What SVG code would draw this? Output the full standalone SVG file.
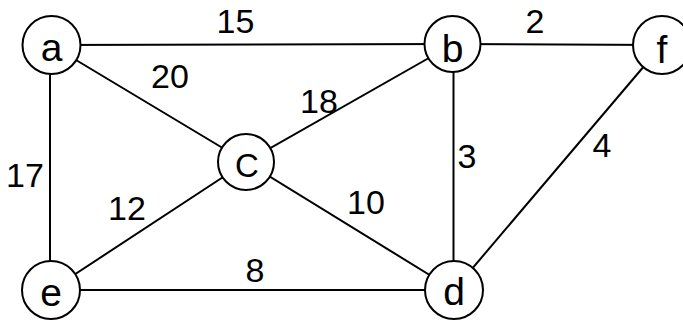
<svg xmlns="http://www.w3.org/2000/svg" width="683" height="323" viewBox="0 0 683 323">
<style>
.edge{stroke:#000;stroke-width:2;fill:none}
.node circle{fill:#fff;stroke:#000;stroke-width:2}
.node text{font-family:"Liberation Sans",Arial,sans-serif;font-size:39px;text-anchor:middle;fill:#000}
.lbl{font-family:"Liberation Sans",Arial,sans-serif;font-size:34px;text-anchor:middle;fill:#000}
</style>
<rect width="683" height="323" fill="#fff"/>
<g id="edges">
<line class="edge" x1="51" y1="45" x2="453.5" y2="44"/>
<line class="edge" x1="453.5" y1="44" x2="662" y2="45"/>
<line class="edge" x1="50" y1="45" x2="50" y2="290"/>
<line class="edge" x1="51" y1="45" x2="246" y2="162"/>
<line class="edge" x1="246" y1="162" x2="453.5" y2="44"/>
<line class="edge" x1="453.5" y1="44" x2="453.5" y2="290"/>
<line class="edge" x1="246" y1="162" x2="51" y2="290"/>
<line class="edge" x1="246" y1="162" x2="454" y2="290"/>
<line class="edge" x1="51" y1="290" x2="454" y2="290"/>
<line class="edge" x1="662" y1="45" x2="454" y2="290"/>
</g>
<g id="labels">
<text class="lbl" x="235.5" y="33">15</text>
<text class="lbl" x="535" y="33">2</text>
<text class="lbl" x="170" y="88">20</text>
<text class="lbl" x="319" y="113">18</text>
<text class="lbl" x="467" y="168">3</text>
<text class="lbl" x="602" y="157">4</text>
<text class="lbl" x="25" y="187">17</text>
<text class="lbl" x="127" y="220">12</text>
<text class="lbl" x="366" y="214">10</text>
<text class="lbl" x="255" y="282">8</text>
</g>
<g id="node-a" class="node"><circle cx="51.5" cy="45" r="29"/><text x="51.5" y="61">a</text></g>
<g id="node-b" class="node"><circle cx="452.5" cy="44" r="28"/><text x="452.5" y="62">b</text></g>
<g id="node-f" class="node"><circle cx="662" cy="45" r="29"/><text x="662" y="63">f</text></g>
<g id="node-c" class="node"><circle cx="246" cy="162" r="28"/><text x="247" y="177" style="font-size:33px">C</text></g>
<g id="node-e" class="node"><circle cx="51" cy="290" r="29"/><text x="51" y="306">e</text></g>
<g id="node-d" class="node"><circle cx="454" cy="290" r="29"/><text x="454" y="305">d</text></g>
</svg>
